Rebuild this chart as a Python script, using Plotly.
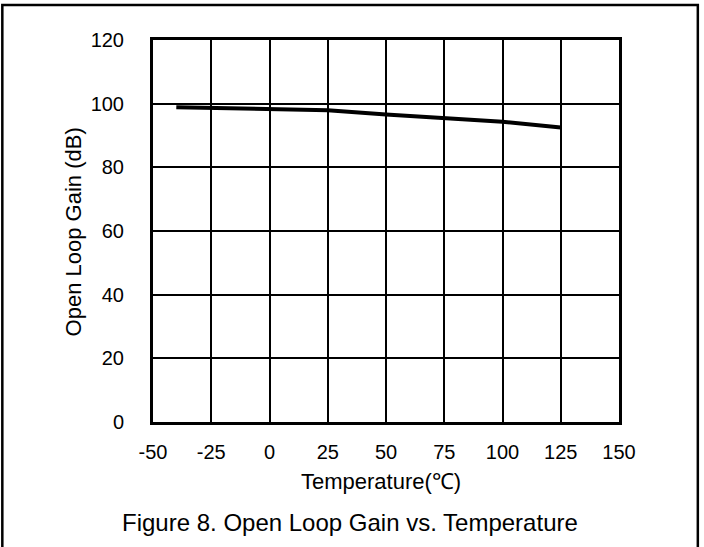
import plotly.graph_objects as go

temperature = [-40, -25, 0, 25, 50, 75, 100, 125]
gain_db = [98.9, 98.7, 98.4, 97.9, 96.6, 95.3, 94.3, 92.5]

x_ticks = [-50, -25, 0, 25, 50, 75, 100, 125, 150]
x_tick_labels = ["-50", "-25", "0", "25", "50", "75", "100", "125", "150"]
y_ticks = [0, 20, 40, 60, 80, 100, 120]
y_tick_labels = ["0", "20", "40", "60", "80", "100", "120"]

FONT = "Liberation Sans, Arial, sans-serif"

fig = go.Figure()
fig.add_trace(go.Scatter(x=temperature, y=gain_db, mode="lines",
                         line=dict(color="black", width=4), showlegend=False))

W, H = 704, 547
L, R, T, B = 152.5, 619.5, 39.5, 422.0
pw, ph = R - L, B - T

def px(x):
    return (x - L) / pw

def py(y):
    return (B - y) / ph

fig.update_layout(
    width=W, height=H,
    margin=dict(l=L, r=W - R, t=T, b=H - B, pad=0),
    paper_bgcolor="white", plot_bgcolor="white",
    font=dict(family=FONT, size=20, color="black"),
    xaxis=dict(range=[-50, 150], tickvals=x_ticks, ticktext=x_tick_labels, showgrid=True,
               gridcolor="black", gridwidth=1.8, showline=True, linecolor="black",
               linewidth=3, mirror=True, ticks="", ticklabelstandoff=10, zeroline=False,
               tickfont=dict(size=20)),
    yaxis=dict(range=[0, 120], tickvals=y_ticks, ticktext=y_tick_labels, showgrid=True,
               gridcolor="black", gridwidth=1.8, showline=True, linecolor="black",
               linewidth=3, mirror=True, ticks="", ticklabelstandoff=22, zeroline=False,
               tickfont=dict(size=20)),
    annotations=[
        dict(text="Temperature(℃)", xref="paper", yref="paper", x=px(381), y=py(482),
             xanchor="center", yanchor="middle", showarrow=False, font=dict(size=22)),
        dict(text="Open Loop Gain (dB)", xref="paper", yref="paper", x=px(73), y=py(231.5),
             xanchor="center", yanchor="middle", textangle=-90, showarrow=False,
             font=dict(size=22)),
        dict(text="Figure 8. Open Loop Gain vs. Temperature", xref="paper", yref="paper",
             x=px(350), y=py(523), xanchor="center", yanchor="middle",
             showarrow=False, font=dict(size=24)),
    ],
    shapes=[dict(type="rect", xref="paper", yref="paper", x0=px(1.5), x1=px(698.5),
                 y0=py(555), y1=py(4.5), line=dict(color="black", width=2.5),
                 fillcolor="rgba(0,0,0,0)", layer="above")],
)

fig.write_html("out.html", config={"displayModeBar": False},
               post_script="document.body.style.margin='0';")
